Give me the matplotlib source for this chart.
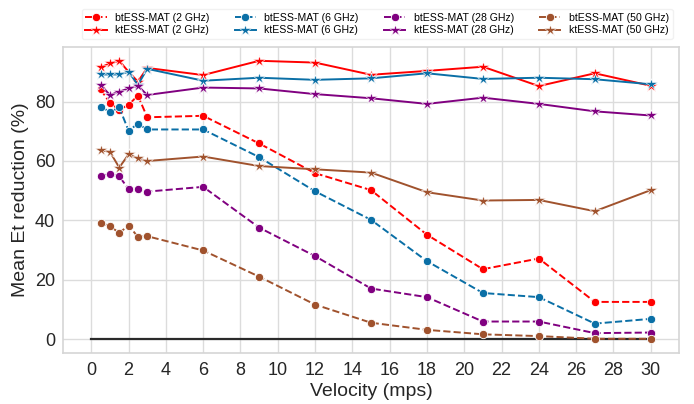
import matplotlib
matplotlib.use("Agg")
import matplotlib.pyplot as plt

# velocities (mps)
velocity = [0.5, 1, 1.5, 2, 2.5, 3, 6, 9, 12, 15, 18, 21, 24, 27, 30]

# mean Et reduction (%)
bt_2ghz = [84.1, 79.5, 77.2, 78.9, 82.0, 74.7, 75.2, 65.9, 55.9, 50.2, 35.2, 23.6, 27.2, 12.6, 12.6]
kt_2ghz = [91.5, 92.8, 93.7, 90.0, 86.7, 91.3, 88.9, 93.7, 93.1, 89.0, 90.3, 91.7, 85.2, 89.5, 85.3]
bt_6ghz = [78.3, 76.5, 78.0, 70.2, 72.5, 70.6, 70.6, 61.3, 49.8, 40.2, 26.3, 15.6, 14.2, 5.3, 6.9]
kt_6ghz = [89.1, 89.1, 89.1, 90.0, 85.6, 91.0, 87.0, 88.0, 87.3, 87.8, 89.5, 87.6, 88.0, 87.5, 85.8]
bt_28ghz = [55.0, 55.6, 54.8, 50.6, 50.6, 49.7, 51.3, 37.6, 28.0, 17.1, 14.2, 6.0, 6.0, 2.1, 2.3]
kt_28ghz = [85.6, 82.2, 83.3, 84.4, 85.3, 82.2, 84.7, 84.4, 82.5, 81.1, 79.2, 81.3, 79.2, 76.7, 75.3]
bt_50ghz = [39.2, 38.1, 35.8, 38.3, 34.5, 34.7, 29.9, 21.1, 11.7, 5.6, 3.2, 1.7, 1.1, 0.2, 0.2]
kt_50ghz = [63.6, 63.1, 57.8, 62.2, 60.9, 60.0, 61.5, 58.3, 57.2, 56.1, 49.5, 46.7, 46.9, 43.1, 50.2]

freqs = ["2 GHz", "6 GHz", "28 GHz", "50 GHz"]
colors = ["#ff0000", "#0a6fa6", "#800080", "#a0522d"]
bt_series = [bt_2ghz, bt_6ghz, bt_28ghz, bt_50ghz]
kt_series = [kt_2ghz, kt_6ghz, kt_28ghz, kt_50ghz]

plt.rcParams["font.family"] = ["Liberation Sans", "DejaVu Sans"]

fig = plt.figure(figsize=(6.94, 4.04), dpi=100)
ax = fig.add_axes([0.0912, 0.1255, 0.8868, 0.7585])

ax.set_axisbelow(True)
ax.grid(True, color="#dcdcdc", linewidth=1.0)
for s in ax.spines.values():
    s.set_color("#d5d5d5")
    s.set_linewidth(1.2)

# zero reference line
ax.plot([0, 30], [0, 0], color="#2a2a2a", linewidth=1.6, zorder=1)

for f, c, bt, kt in zip(freqs, colors, bt_series, kt_series):
    ax.plot(velocity, bt, linestyle="--", marker="o", color=c, markersize=6,
            markeredgecolor="white", markeredgewidth=0.6, linewidth=1.4,
            label=f"btESS-MAT ({f})")
    ax.plot(velocity, kt, linestyle="-", marker="*", color=c, markersize=9,
            markeredgecolor="white", markeredgewidth=0.4, linewidth=1.4,
            label=f"ktESS-MAT ({f})")

ax.set_xticks(range(0, 31, 2))
ax.set_yticks([0, 20, 40, 60, 80])
ax.tick_params(axis="both", length=0, labelsize=13, colors="#262626", pad=6)
ax.set_xlabel("Velocity (mps)", fontsize=14, color="#262626", labelpad=3)
ax.set_ylabel("Mean Et reduction (%)", fontsize=14, color="#262626")

ax.legend(loc="lower center", bbox_to_anchor=(0.51, 1.0), ncol=4, fontsize=7.6,
          frameon=True, edgecolor="#eeeeee", columnspacing=2.4, handlelength=2.0,
          labelspacing=0.25, borderpad=0.35, borderaxespad=0.75)

fig.savefig("out.png", dpi=100)
